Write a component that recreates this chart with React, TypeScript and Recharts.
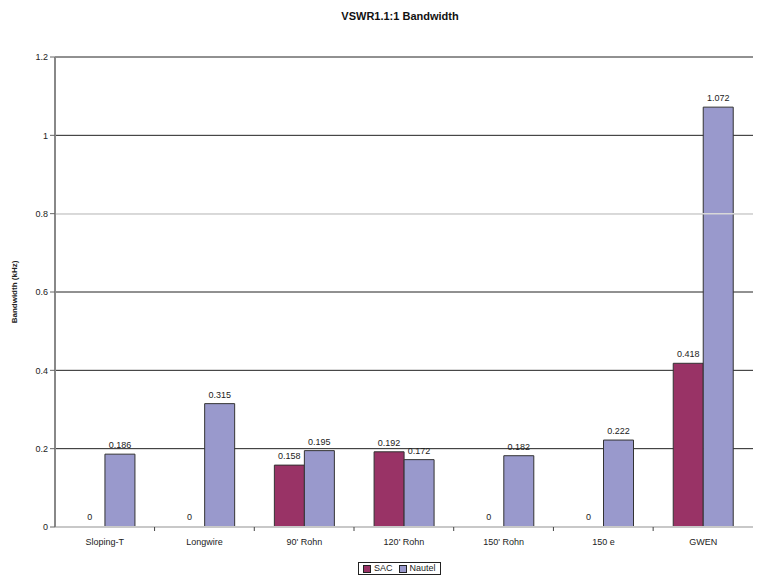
import { Bar, BarChart, CartesianGrid, LabelList, ReferenceLine, XAxis, YAxis } from 'recharts'

const categories = ['Sloping-T', 'Longwire', "90' Rohn", "120' Rohn", "150' Rohn", '150 e', 'GWEN']
const sacValues = [0, 0, 0.158, 0.192, 0, 0, 0.418]
const nautelValues = [0.186, 0.315, 0.195, 0.172, 0.182, 0.222, 1.072]
const yTicks = [0, 0.2, 0.4, 0.6, 0.8, 1, 1.2]

const FONT = '"Liberation Sans", Arial, sans-serif'

const data = categories.map((name, i) => ({ name, sac: sacValues[i], nautel: nautelValues[i] }))

// category label, boundary tick, and the "0" label for empty SAC bars
// (recharts does not label zero-height bars)
const CategoryTick = (props: any) => {
  const { x, y, payload, index } = props
  return (
    <g>
      {index > 0 && <line x1={x - 50} x2={x - 50} y1={y - 8} y2={y - 4} stroke="#444" />}
      {sacValues[index] === 0 && (
        <text x={x - 15} y={y - 15} textAnchor="middle" fontSize={9} fill="#222" fontFamily={FONT}>
          {sacValues[index]}
        </text>
      )}
      <text x={x} y={y + 10} textAnchor="middle" fontSize={9} fill="#222" fontFamily={FONT}>
        {payload.value}
      </text>
    </g>
  )
}

const ValueLabel = (props: any) => {
  const { x, y, width, value } = props
  return (
    <text x={x + width / 2} y={y - 6} textAnchor="middle" fontSize={9} fill="#222" fontFamily={FONT}>
      {value}
    </text>
  )
}

export default function App() {
  return (
    <div style={{ position: 'absolute', left: 0, top: 0, width: 760, height: 576, background: '#fff' }}>
      <div
        style={{
          position: 'absolute',
          top: 10,
          left: 0,
          width: 800,
          textAlign: 'center',
          fontFamily: FONT,
          fontSize: 11,
          fontWeight: 'bold',
          color: '#111',
        }}
      >
        VSWR1.1:1 Bandwidth
      </div>
      <BarChart
        width={760}
        height={576}
        data={data}
        margin={{ top: 57, right: 7, left: 0, bottom: 19 }}
        barCategoryGap="20%"
        barGap={0}
      >
        <CartesianGrid horizontal vertical={false} stroke="#222" strokeOpacity={1} />
        <ReferenceLine y={0.8} stroke="#d8d8d8" strokeWidth={1.5} />
        <XAxis
          dataKey="name"
          height={30}
          axisLine={{ stroke: '#c8c8c8', strokeWidth: 2 }}
          tickLine={false}
          tick={<CategoryTick />}
          interval={0}
        />
        <YAxis
          domain={[0, 1.2]}
          ticks={yTicks}
          width={55}
          axisLine={{ stroke: '#888', strokeWidth: 2 }}
          tickLine={{ stroke: '#666' }}
          tickSize={5}
          tick={{ fontSize: 9, fill: '#222', fontFamily: FONT }}
          label={{
            value: 'Bandwidth (kHz)',
            angle: -90,
            position: 'insideLeft',
            offset: 14,
            style: { fontSize: 8, fontWeight: 'bold', fill: '#222', fontFamily: FONT, textAnchor: 'middle' },
          }}
        />
        <YAxis yAxisId="right" orientation="right" width={0} axisLine={{ stroke: '#222' }} tick={false} tickLine={false} />
        <Bar dataKey="sac" name="SAC" fill="#993366" stroke="#333" strokeWidth={1} isAnimationActive={false}>
          <LabelList dataKey="sac" content={<ValueLabel />} />
        </Bar>
        <Bar dataKey="nautel" name="Nautel" fill="#9999cc" stroke="#333" strokeWidth={1} isAnimationActive={false}>
          <LabelList dataKey="nautel" content={<ValueLabel />} />
        </Bar>
      </BarChart>
      <div
        style={{
          position: 'absolute',
          left: 358,
          top: 562,
          display: 'flex',
          alignItems: 'center',
          gap: 3,
          border: '1px solid #222',
          padding: '0 4px',
          fontFamily: FONT,
          fontSize: 9,
          lineHeight: '11px',
          color: '#222',
          background: '#fff',
        }}
      >
        <span style={{ width: 6, height: 6, background: '#993366', border: '1px solid #222', display: 'inline-block' }} />
        <span>SAC</span>
        <span style={{ width: 6, height: 6, background: '#9999cc', border: '1px solid #222', display: 'inline-block', marginLeft: 3 }} />
        <span>Nautel</span>
      </div>
    </div>
  )
}
